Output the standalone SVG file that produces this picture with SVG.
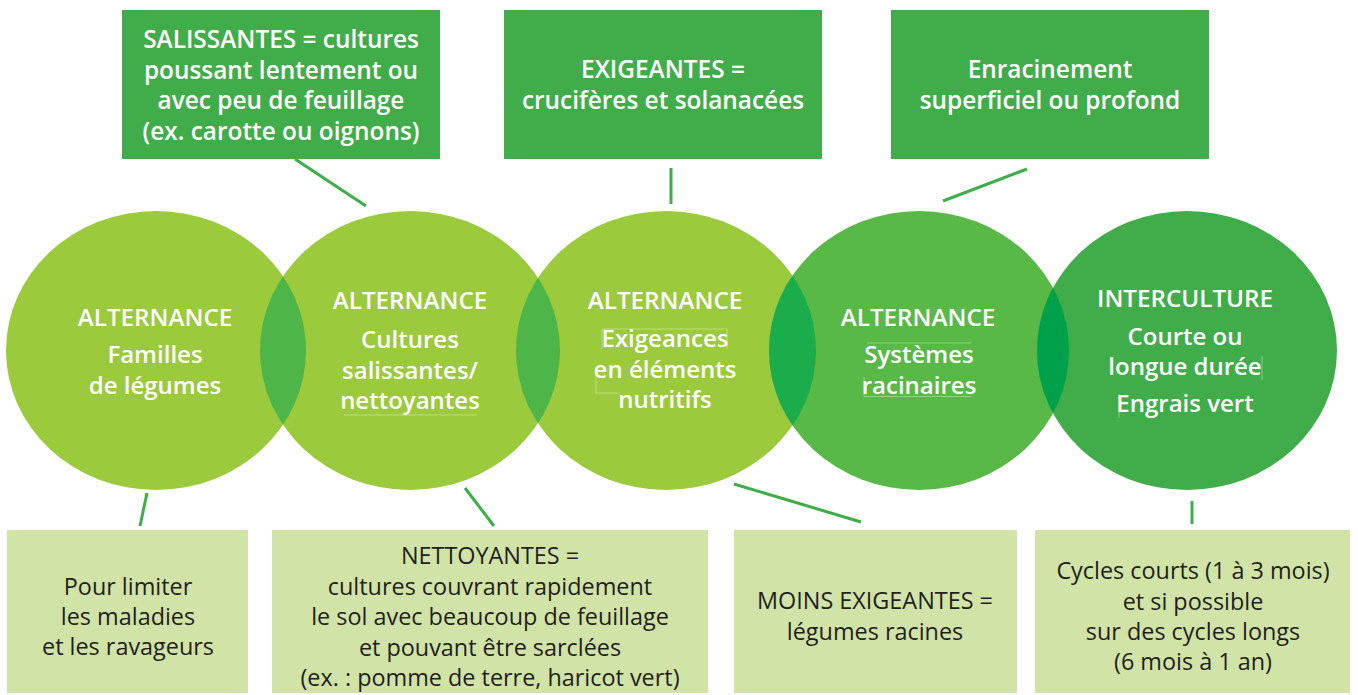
<svg xmlns="http://www.w3.org/2000/svg" width="1358" height="695" viewBox="0 0 1358 695">
  <style>
    .top-box { fill: #41AD4A; }
    .bottom-box { fill: #D1E3A6; }
    .ring-a { fill: #9BCA3C; }
    .ring-b { fill: #58B947; }
    .ring-c { fill: #41AD4A; }
    .head { font-family: "Open Sans", "Noto Sans", "Liberation Sans", sans-serif; font-weight: 600; font-size: 24.2px; fill: #FFFFFF; text-anchor: middle; }
    .sub { font-family: "Open Sans", "Noto Sans", "Liberation Sans", sans-serif; font-weight: 600; font-size: 24px; fill: #FFFFFF; text-anchor: middle; }
    .top-text { font-family: "Open Sans", "Noto Sans", "Liberation Sans", sans-serif; font-weight: 600; font-size: 24.4px; fill: #FFFFFF; text-anchor: middle; }
    .bottom-text { font-family: "Open Sans", "Noto Sans", "Liberation Sans", sans-serif; font-weight: 400; font-size: 23.4px; fill: #231F20; text-anchor: middle; }
    .link { stroke: #3DAE49; stroke-width: 3; fill: none; stroke-linecap: butt; }
    .frame { stroke: #FFFFFF; stroke-opacity: 0.45; stroke-width: 0.8; fill: none; }
  </style>
  <defs>
    <clipPath id="clip-c1"><ellipse cx="156" cy="350.5" rx="150" ry="139.5"/></clipPath>
    <clipPath id="clip-c2"><ellipse cx="410" cy="350.5" rx="150" ry="139.5"/></clipPath>
    <clipPath id="clip-c3"><ellipse cx="666" cy="350.5" rx="150" ry="139.5"/></clipPath>
    <clipPath id="clip-c4"><ellipse cx="919" cy="350.5" rx="150" ry="139.5"/></clipPath>
  </defs>

  <rect width="1358" height="695" fill="#FFFFFF"/>

  <!-- connectors between the circles and the notes -->
  <g id="connectors">
    <line class="link" x1="295" y1="159" x2="366" y2="206"/>
    <line class="link" x1="671" y1="168" x2="671" y2="204"/>
    <line class="link" x1="1027" y1="169" x2="943" y2="201"/>
    <line class="link" x1="147" y1="493" x2="140" y2="526"/>
    <line class="link" x1="465" y1="488" x2="494" y2="526"/>
    <line class="link" x1="734" y1="484" x2="861" y2="522"/>
    <line class="link" x1="1192" y1="501" x2="1192" y2="524"/>
  </g>

  <!-- circles -->
  <g id="circles">
    <ellipse class="ring-a" cx="156" cy="350.5" rx="150" ry="139.5"/>
    <ellipse class="ring-a" cx="410" cy="350.5" rx="150" ry="139.5"/>
    <ellipse class="ring-a" cx="666" cy="350.5" rx="150" ry="139.5"/>
    <ellipse class="ring-b" cx="919" cy="350.5" rx="150" ry="139.5"/>
    <ellipse class="ring-c" cx="1187" cy="350.5" rx="150" ry="139.5"/>
    <!-- overlaps -->
    <ellipse cx="410" cy="350.5" rx="150" ry="139.5" fill="#4EB548" clip-path="url(#clip-c1)"/>
    <ellipse cx="666" cy="350.5" rx="150" ry="139.5" fill="#4EB548" clip-path="url(#clip-c2)"/>
    <ellipse cx="919" cy="350.5" rx="150" ry="139.5" fill="#1BAD4B" clip-path="url(#clip-c3)"/>
    <ellipse cx="1187" cy="350.5" rx="150" ry="139.5" fill="#00A14B" clip-path="url(#clip-c4)"/>
  </g>

  <g id="node-familles">
    <text class="head" x="155" y="326">ALTERNANCE</text>
    <text class="sub" x="155" y="363">Familles</text>
    <text class="sub" x="155" y="394">de légumes</text>
  </g>

  <g id="node-salissantes">
    <text class="head" x="410" y="309">ALTERNANCE</text>
    <text class="sub" x="410" y="348">Cultures</text>
    <text class="sub" x="410" y="379">salissantes/</text>
    <text class="sub" x="410" y="409">nettoyantes</text>
    <line class="frame" x1="456" y1="331" x2="456" y2="349"/>
    <line class="frame" x1="344" y1="415" x2="477" y2="415"/>
  </g>

  <g id="node-exigeances">
    <text class="head" x="665" y="309">ALTERNANCE</text>
    <text class="sub" x="665" y="347">Exigeances</text>
    <text class="sub" x="665" y="378">en éléments</text>
    <text class="sub" x="665" y="408">nutritifs</text>
    <polyline class="frame" points="602,349 602,329 727,329 727,349"/>
    <polyline class="frame" points="596,374 596,393 620,393"/>
  </g>

  <g id="node-racinaires">
    <text class="head" x="918" y="326">ALTERNANCE</text>
    <text class="sub" x="919" y="363">Systèmes</text>
    <text class="sub" x="919" y="394">racinaires</text>
    <line class="frame" x1="867" y1="343" x2="971" y2="343"/>
    <polyline class="frame" points="864,377 864,396.5 971,396.5"/>
  </g>

  <g id="node-interculture">
    <text class="head" x="1185" y="307">INTERCULTURE</text>
    <text class="sub" x="1185" y="345">Courte ou</text>
    <text class="sub" x="1185" y="375">longue durée</text>
    <text class="sub" x="1185" y="412">Engrais vert</text>
    <line class="frame" x1="1262" y1="356" x2="1262" y2="380"/>
    <line class="frame" x1="1119" y1="394" x2="1119" y2="418"/>
  </g>

  <!-- notes above -->
  <g id="note-salissantes">
    <rect class="top-box" x="122" y="10" width="318" height="149"/>
    <text class="top-text" x="281" y="48">SALISSANTES = cultures</text>
    <text class="top-text" x="281" y="78.5">poussant lentement ou</text>
    <text class="top-text" x="281" y="109">avec peu de feuillage</text>
    <text class="top-text" x="281" y="139.5">(ex. carotte ou oignons)</text>
  </g>

  <g id="note-exigeantes">
    <rect class="top-box" x="504" y="10" width="318" height="149"/>
    <text class="top-text" x="663" y="78">EXIGEANTES =</text>
    <text class="top-text" x="663" y="109">crucifères et solanacées</text>
  </g>

  <g id="note-enracinement">
    <rect class="top-box" x="891" y="10" width="318" height="149"/>
    <text class="top-text" x="1050" y="78">Enracinement</text>
    <text class="top-text" x="1050" y="109">superficiel ou profond</text>
  </g>

  <!-- notes below -->
  <g id="note-maladies">
    <rect class="bottom-box" x="7" y="530" width="241" height="163"/>
    <text class="bottom-text" x="128" y="595">Pour limiter</text>
    <text class="bottom-text" x="128" y="625">les maladies</text>
    <text class="bottom-text" x="128" y="655">et les ravageurs</text>
  </g>

  <g id="note-nettoyantes">
    <rect class="bottom-box" x="272" y="530" width="436" height="163"/>
    <text class="bottom-text" x="490" y="564">NETTOYANTES =</text>
    <text class="bottom-text" x="490" y="594.5">cultures couvrant rapidement</text>
    <text class="bottom-text" x="490" y="625">le sol avec beaucoup de feuillage</text>
    <text class="bottom-text" x="490" y="655.5">et pouvant être sarclées</text>
    <text class="bottom-text" x="490" y="686">(ex. : pomme de terre, haricot vert)</text>
  </g>

  <g id="note-moins-exigeantes">
    <rect class="bottom-box" x="734" y="530" width="283" height="163"/>
    <text class="bottom-text" x="875" y="609">MOINS EXIGEANTES =</text>
    <text class="bottom-text" x="875" y="640">légumes racines</text>
  </g>

  <g id="note-cycles">
    <rect class="bottom-box" x="1035" y="530" width="315" height="163"/>
    <text class="bottom-text" x="1193" y="579">Cycles courts (1 à 3 mois)</text>
    <text class="bottom-text" x="1193" y="609.5">et si possible</text>
    <text class="bottom-text" x="1193" y="640">sur des cycles longs</text>
    <text class="bottom-text" x="1193" y="670">(6 mois à 1 an)</text>
  </g>
</svg>
